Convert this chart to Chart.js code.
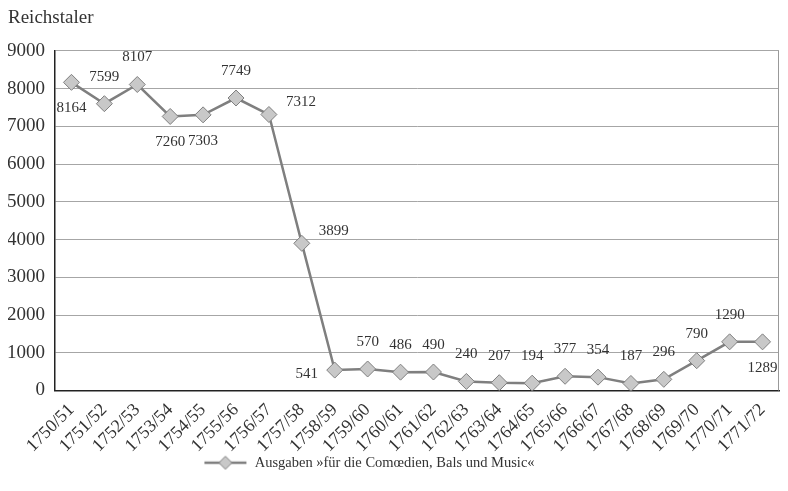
<!DOCTYPE html>
<html>
<head>
<meta charset="utf-8">
<script src="https://cdn.jsdelivr.net/npm/chart.js@4.4.0/dist/chart.umd.min.js"></script>
<style>
  body { margin: 0; background: #fff; }
  #wrap { width: 788px; height: 491px; }
</style>
</head>
<body>
<div id="wrap"><canvas id="myChart" width="788" height="491"></canvas></div>
<script>
// Jahre (Rechnungsjahre)
const years = ['1750/51', '1751/52', '1752/53', '1753/54', '1754/55', '1755/56', '1756/57', '1757/58',
    '1758/59', '1759/60', '1760/61', '1761/62', '1762/63', '1763/64', '1764/65', '1765/66',
    '1766/67', '1767/68', '1768/69', '1769/70', '1770/71', '1771/72'];
// Ausgaben in Reichstaler
const ausgaben = [8164, 7599, 8107, 7260, 7303, 7749, 7312, 3899,
    541, 570, 486, 490, 240, 207, 194, 377,
    354, 187, 296, 790, 1290, 1289];
const yTicks = [0, 1000, 2000, 3000, 4000, 5000, 6000, 7000, 8000, 9000];
const seriesName = 'Ausgaben \u00bbf\u00fcr die Com\u0153dien, Bals und Music\u00ab';

// wo die Zahl neben dem Punkt steht
const labelSide = ['below', 'above', 'above', 'below', 'below', 'above', 'right', 'right',
    'left', 'above', 'above', 'above', 'above', 'above', 'above', 'above',
    'above', 'above', 'above', 'above', 'above', 'below'];

const serif = '"Liberation Serif", "DejaVu Serif", serif';
const lineGray = '#7f7f7f';
const fillGray = '#c8c8c8';

// Legendensymbol: Linie mit Raute
const legendIcon = document.createElement('canvas');
legendIcon.width = 44;
legendIcon.height = 16;
(function() {
    const c = legendIcon.getContext('2d');
    c.strokeStyle = lineGray;
    c.lineWidth = 2.5;
    c.beginPath();
    c.moveTo(1, 8);
    c.lineTo(43, 8);
    c.stroke();
    c.beginPath();
    c.moveTo(22, 1.5);
    c.lineTo(28.5, 8);
    c.lineTo(22, 14.5);
    c.lineTo(15.5, 8);
    c.closePath();
    c.fillStyle = fillGray;
    c.fill();
    c.lineWidth = 1;
    c.stroke();
})();

// Werte an die Punkte schreiben + rechter Rahmen
const valueLabels = {
    id: 'valueLabels',
    afterLayout(chart) {
        // Legende etwas nach links/oben wie im Original
        chart.legend.right -= 56;
        chart.legend.top -= 4;
        chart.legend.bottom -= 4;
    },
    beforeDatasetsDraw(chart) {
        const a = chart.chartArea;
        const ctx = chart.ctx;
        ctx.save();
        ctx.strokeStyle = '#999';
        ctx.lineWidth = 1;
        ctx.beginPath();
        ctx.moveTo(a.right - 0.5, a.top);
        ctx.lineTo(a.right - 0.5, a.bottom);
        ctx.stroke();
        ctx.restore();
    },
    afterDatasetsDraw(chart) {
        const ctx = chart.ctx;
        const meta = chart.getDatasetMeta(0);
        ctx.save();
        ctx.font = '15px ' + serif;
        ctx.fillStyle = '#333';
        ctx.textAlign = 'center';
        ctx.textBaseline = 'middle';
        meta.data.forEach(function(pt, i) {
            let x = pt.x, y = pt.y;
            const side = labelSide[i];
            if (side === 'above') { y -= 27; }
            else if (side === 'below') { y += 26; }
            else if (side === 'right') { x += 32; y -= 12; }
            else if (side === 'left') { x -= 28; y += 4; }
            ctx.fillText(String(ausgaben[i]), x, y);
        });
        ctx.restore();
    }
};

const ctx = document.getElementById('myChart').getContext('2d');
const myChart = new Chart(ctx, {
    type: 'line',
    data: {
        labels: years,
        datasets: [{
            label: seriesName,
            data: ausgaben,
            borderColor: lineGray,
            borderWidth: 2.5,
            backgroundColor: fillGray,
            pointStyle: 'rectRot',
            pointRadius: 8,
            pointBorderColor: lineGray,
            pointBorderWidth: 1,
            pointBackgroundColor: fillGray,
            tension: 0
        }]
    },
    options: {
        responsive: false,
        animation: false,
        layout: { padding: { left: 8, right: 2, top: 0, bottom: 7 } },
        scales: {
            x: {
                offset: true,
                afterFit: function(scale) { scale.paddingLeft = 0; },
                grid: { display: false },
                border: { color: '#222', width: 1.5 },
                ticks: {
                    maxRotation: 45,
                    minRotation: 45,
                    autoSkip: false,
                    color: '#333',
                    padding: 1,
                    font: { family: serif, size: 18 }
                }
            },
            y: {
                min: 0,
                max: 9000,
                afterBuildTicks: function(axis) {
                    axis.ticks = yTicks.map(function(v) { return { value: v }; });
                },
                afterFit: function(scale) { scale.width = 47; },
                grid: { color: '#a6a6a6', lineWidth: 1, drawTicks: false },
                border: { color: '#222', width: 1.5 },
                ticks: {
                    color: '#333',
                    padding: 10,
                    font: { family: serif, size: 19 },
                    callback: function(v) { return String(v); }
                }
            }
        },
        plugins: {
            title: {
                display: true,
                text: 'Reichstaler',
                align: 'start',
                color: '#333',
                font: { family: serif, size: 19, weight: 'normal' },
                padding: { top: 7, bottom: 21 }
            },
            legend: {
                position: 'bottom',
                labels: {
                    usePointStyle: true,
                    pointStyle: legendIcon,
                    pointStyleWidth: 44,
                    color: '#333',
                    padding: 2,
                    font: { family: serif, size: 14.5 }
                }
            },
            tooltip: { enabled: false }
        }
    },
    plugins: [valueLabels]
});
</script>
</body>
</html>
